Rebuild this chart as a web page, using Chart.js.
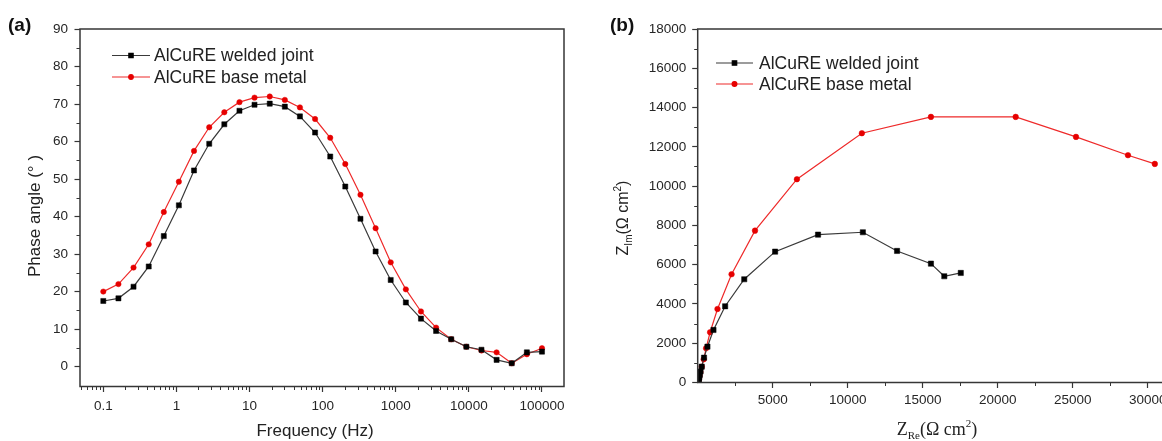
<!DOCTYPE html>
<html><head><meta charset="utf-8">
<script src="https://cdn.jsdelivr.net/npm/chart.js@4.4.0/dist/chart.umd.min.js"></script>
<style>
html,body{margin:0;padding:0;background:#fff;overflow:hidden;width:1162px;height:441px;position:relative;}
#ca{position:absolute;left:0;top:0;}
#cb{position:absolute;left:595px;top:0;}
</style></head><body>
<canvas id="ca" width="595" height="441"></canvas>
<canvas id="cb" width="700" height="441"></canvas>
<script>
// ---------- data ----------
const seriesNames = ['AlCuRE welded joint', 'AlCuRE base metal'];
const frequencyHz = [0.1,0.161,0.259,0.418,0.672,1.08,1.74,2.81,4.52,7.28,11.7,18.9,30.4,48.9,78.8,127,204,329,530,853,1374,2212,3562,5736,9237,14874,23950,38566,62102,100000];
const phaseWelded = [17.5,18.2,21.3,26.7,34.8,43.0,52.3,59.4,64.6,68.2,69.8,70.1,69.3,66.7,62.4,56.0,48.0,39.4,30.7,23.1,17.1,12.8,9.5,7.3,5.3,4.5,1.8,0.9,3.8,4.0];
const phaseBase   = [20.0,22.0,26.4,32.6,41.2,49.3,57.5,63.8,67.8,70.5,71.7,72.0,71.1,69.1,66.0,61.0,54.0,45.8,36.9,27.8,20.6,14.7,10.4,7.3,5.3,4.3,3.8,0.9,3.3,4.9];
const freqTicks  = [0.1,1,10,100,1000,10000,100000];
const phaseTicks = [0,10,20,30,40,50,60,70,80,90];

const zReWelded = [17539,16440,15549,13290,11011,8022,5161,3103,1830,1052,650,422,268,190,140,105,80,60,45,35];
const zImWelded = [5578,5410,6052,6699,7651,7529,6663,5257,3882,2674,1824,1263,805,560,390,270,180,110,60,30];
const zReBase   = [30474,28685,25220,21199,15549,10945,6615,3820,2258,1320,826,558,402,268,180,120,80,55,40,30];
const zImBase   = [11130,11574,12506,13525,13525,12694,10351,7733,5512,3744,2557,1742,1182,805,530,340,210,130,80,45];
const zReTicks = [5000,10000,15000,20000,25000,30000,35000];
const zImTicks = [0,2000,4000,6000,8000,10000,12000,14000,16000,18000];

// ---------- styles ----------
const SANS = '"Liberation Sans", Arial, sans-serif';
const SERIF = '"Liberation Serif", "Times New Roman", serif';
const TXT = '#222222';
const AX = '#363636';
const BLACK_LINE = '#3a3a3a', BLACK_PT = '#000000';
const RED_LINE = '#ee2a2a', RED_PT = '#e60000';

function pairs(xs, ys){ return xs.map((x,i)=>({x:x, y:ys[i]})); }

function drawRich(ctx, parts, cx, baseY){
  let total = 0;
  parts.forEach(p=>{ ctx.font = p.font; p.w = ctx.measureText(p.t).width; total += p.w; });
  let x = cx - total/2;
  ctx.textAlign = 'left'; ctx.textBaseline = 'alphabetic';
  parts.forEach(p=>{ ctx.font = p.font; ctx.fillText(p.t, x, baseY + (p.dy||0)); x += p.w; });
}

function decor(cfg){
  return {
    id: 'decor',
    afterDraw(chart){
      const ctx = chart.ctx, a = chart.chartArea;
      const xs = chart.scales.x, ys = chart.scales.y;
      ctx.save();
      // frame
      ctx.strokeStyle = AX; ctx.lineWidth = 1.5;
      ctx.strokeRect(a.left, a.top, a.right - a.left, a.bottom - a.top);
      // minor ticks
      ctx.lineWidth = 1; ctx.strokeStyle = AX; ctx.beginPath();
      cfg.xMinor.forEach(v=>{
        const p = xs.getPixelForValue(v);
        if (p < a.left + 1 || p > a.right - 1) return;
        ctx.moveTo(Math.round(p)+0.5, a.bottom); ctx.lineTo(Math.round(p)+0.5, a.bottom + 3.5);
      });
      cfg.yMinor.forEach(v=>{
        const p = ys.getPixelForValue(v);
        if (p < a.top + 1 || p > a.bottom - 1) return;
        ctx.moveTo(a.left, Math.round(p)+0.5); ctx.lineTo(a.left - 3.5, Math.round(p)+0.5);
      });
      ctx.stroke();
      // legend
      const L = cfg.legend;
      chart.data.datasets.forEach((ds, i)=>{
        const y = L.y0 + i*L.dy;
        ctx.strokeStyle = ds.borderColor; ctx.lineWidth = 1.2;
        ctx.beginPath(); ctx.moveTo(L.x0, y); ctx.lineTo(L.x1, y); ctx.stroke();
        ctx.fillStyle = ds.pointBackgroundColor; ctx.strokeStyle = ds.pointBorderColor;
        Chart.helpers.drawPoint(ctx, {pointStyle: ds.pointStyle, radius: ds.pointRadius*0.85, rotation: 0, borderWidth: 1}, (L.x0+L.x1)/2, y);
        ctx.fillStyle = TXT; ctx.font = L.font; ctx.textAlign = 'left'; ctx.textBaseline = 'middle';
        ctx.fillText(ds.label, L.tx, y + 1);
      });
      // panel label
      ctx.fillStyle = '#111'; ctx.font = 'bold 19px ' + SANS; ctx.textAlign = 'left'; ctx.textBaseline = 'middle';
      ctx.fillText(cfg.panel.t, cfg.panel.x, cfg.panel.y);
      // titles
      ctx.fillStyle = TXT;
      cfg.titles(ctx, a);
      ctx.restore();
    }
  };
}

function axisCommon(ticksArr, pad, extra){
  return Object.assign({
    grid: {display: true, drawOnChartArea: false, drawTicks: true, tickLength: 5.5, tickColor: AX, tickWidth: 1.2},
    border: {display: false},
    afterBuildTicks: s => { s.ticks = ticksArr.map(v => ({value: v})); },
    ticks: {autoSkip: false, maxRotation: 0, padding: pad, color: '#262626', font: {family: SANS, size: 13.5}, callback: v => String(v)}
  }, extra);
}

// ---------- chart (a) ----------
const xMinorA = [];
[0.01,0.1,1,10,100,1000,10000,100000].forEach(d=>{ for(let k=2;k<=9;k++) xMinorA.push(k*d); });
const yMinorA = [5,15,25,35,45,55,65,75,85];

new Chart(document.getElementById('ca'), {
  type: 'scatter',
  data: { datasets: [
    { label: seriesNames[0], data: pairs(frequencyHz, phaseWelded), showLine: true,
      borderColor: BLACK_LINE, borderWidth: 1.2, pointStyle: 'rect', pointRadius: 3.6,
      pointBackgroundColor: BLACK_PT, pointBorderColor: BLACK_PT, pointBorderWidth: 0.5 },
    { label: seriesNames[1], data: pairs(frequencyHz, phaseBase), showLine: true,
      borderColor: RED_LINE, borderWidth: 1.2, pointStyle: 'circle', pointRadius: 2.7,
      pointBackgroundColor: RED_PT, pointBorderColor: RED_PT, pointBorderWidth: 0.5 }
  ]},
  options: {
    responsive: false, animation: false, events: [],
    layout: {padding: {left: 0, top: 29, right: 31, bottom: 0}},
    plugins: {legend: {display: false}, tooltip: {enabled: false}},
    scales: {
      x: axisCommon(freqTicks, 6.5, {type: 'logarithmic', min: 0.048, max: 200000, afterFit: s => { s.height = 54.5; }}),
      y: axisCommon(phaseTicks, 6.5, {type: 'linear', min: -5.3, max: 90, afterFit: s => { s.width = 80; }})
    }
  },
  plugins: [decor({
    xMinor: xMinorA, yMinor: yMinorA,
    legend: {x0: 112, x1: 150, tx: 154, y0: 55.5, dy: 21.5, font: '17.5px ' + SANS},
    panel: {t: '(a)', x: 8, y: 26},
    titles: (ctx, a) => {
      ctx.font = '17px ' + SANS; ctx.textAlign = 'center'; ctx.textBaseline = 'middle';
      ctx.fillText('Frequency (Hz)', 315, 431);
      ctx.save(); ctx.translate(35, 216); ctx.rotate(-Math.PI/2);
      ctx.fillText('Phase angle (\u00B0 )', 0, 0); ctx.restore();
    }
  })]
});

// ---------- chart (b) ----------
const xMinorB = [2500,7500,12500,17500,22500,27500,32500];
const yMinorB = [1000,3000,5000,7000,9000,11000,13000,15000,17000];

new Chart(document.getElementById('cb'), {
  type: 'scatter',
  data: { datasets: [
    { label: seriesNames[0], data: pairs(zReWelded, zImWelded), showLine: true,
      borderColor: BLACK_LINE, borderWidth: 1.2, pointStyle: 'rect', pointRadius: 3.7,
      pointBackgroundColor: BLACK_PT, pointBorderColor: BLACK_PT, pointBorderWidth: 0.5 },
    { label: seriesNames[1], data: pairs(zReBase, zImBase), showLine: true,
      borderColor: RED_LINE, borderWidth: 1.2, pointStyle: 'circle', pointRadius: 2.8,
      pointBackgroundColor: RED_PT, pointBorderColor: RED_PT, pointBorderWidth: 0.5 }
  ]},
  options: {
    responsive: false, animation: false, events: [],
    layout: {padding: {left: 0, top: 29, right: 72.3, bottom: 0}},
    plugins: {legend: {display: false}, tooltip: {enabled: false}},
    scales: {
      x: axisCommon(zReTicks, 4, {type: 'linear', min: 0, max: 35000, afterFit: s => { s.height = 58.5; }}),
      y: axisCommon(zImTicks, 6, {type: 'linear', min: 0, max: 18000, afterFit: s => { s.width = 102.7; }})
    }
  },
  plugins: [decor({
    xMinor: xMinorB, yMinor: yMinorB,
    legend: {x0: 121, x1: 158, tx: 164, y0: 63, dy: 21, font: '17.5px ' + SANS},
    panel: {t: '(b)', x: 15, y: 26},
    titles: (ctx, a) => {
      drawRich(ctx, [
        {t: 'Z', font: '18px ' + SERIF},
        {t: 'Re', font: '11px ' + SERIF, dy: 4},
        {t: '(\u03A9 cm', font: '18px ' + SERIF},
        {t: '2', font: '11px ' + SERIF, dy: -8},
        {t: ')', font: '18px ' + SERIF}
      ], 342, 435);
      ctx.save(); ctx.translate(33, 218); ctx.rotate(-Math.PI/2);
      drawRich(ctx, [
        {t: 'Z', font: '16px ' + SANS},
        {t: 'Im', font: '10px ' + SANS, dy: 4},
        {t: '(\u03A9 cm', font: '16px ' + SANS},
        {t: '2', font: '10px ' + SANS, dy: -7},
        {t: ')', font: '16px ' + SANS}
      ], 0, 0);
      ctx.restore();
    }
  })]
});
</script>
</body></html>
